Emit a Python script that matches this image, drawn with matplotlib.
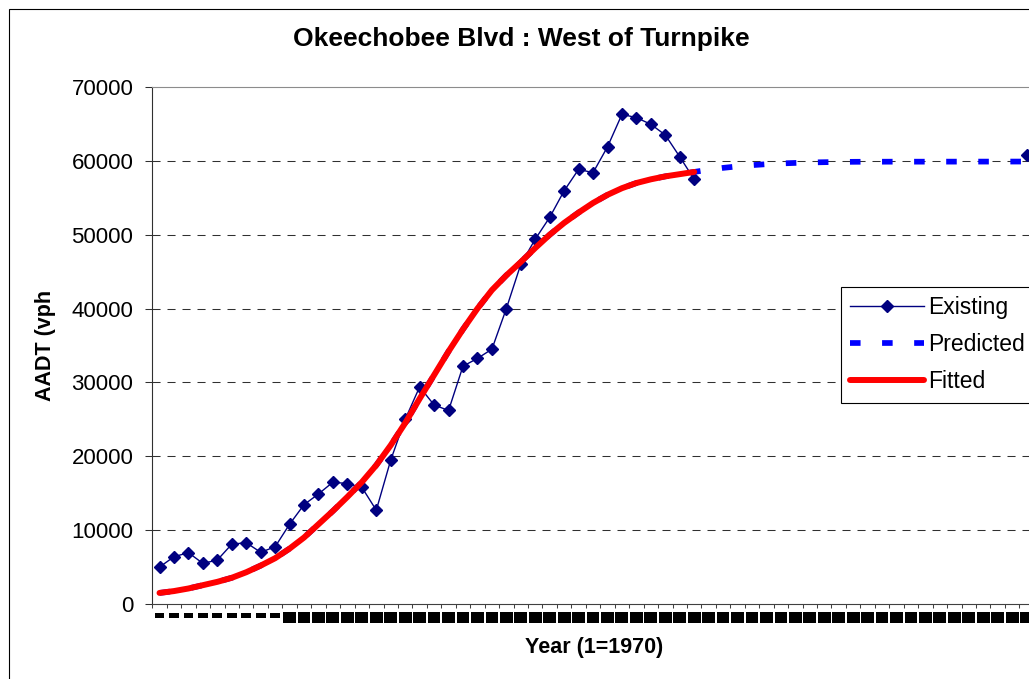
import matplotlib
matplotlib.use('Agg')
import matplotlib.pyplot as plt
import numpy as np
from matplotlib.patches import Rectangle

plt.rcParams['font.family'] = ['Liberation Sans', 'DejaVu Sans']
plt.rcParams['lines.scale_dashes'] = False

# Year index, 1 = 1970
years = list(range(1, 62))

# Counted AADT, 1970-2007
existing = [5000, 6400, 6950, 5500, 5950, 8100, 8300, 7000, 7750, 10800,
            13450, 14900, 16500, 16300, 15800, 12700, 19500, 25000, 29400, 26950,
            26200, 32200, 33250, 34500, 40000, 46000, 49400, 52350, 55950, 58850,
            58400, 61900, 66300, 65850, 64950, 63500, 60550, 57500]
# lone count shown in the last year of the axis
last_year_count = 60800

# Curve fitted to the counts, 1970-2007
fitted = [1500, 1750, 2100, 2550, 3000, 3550, 4300, 5200, 6200, 7500,
          9000, 10800, 12600, 14500, 16500, 18800, 21500, 24500, 27800, 31000,
          34200, 37200, 40000, 42500, 44500, 46300, 48200, 50000, 51600, 53000,
          54300, 55400, 56300, 57000, 57500, 57900, 58200, 58500]
# Projection beyond 2007
predicted_tail = [58800, 59050, 59250, 59420, 59550, 59650, 59720, 59780, 59820, 59850,
                  59870, 59880, 59885, 59890, 59890, 59890, 59895, 59895, 59900, 59900,
                  59900, 59905, 59905]
predicted = fitted + predicted_tail

yticks = list(range(0, 70001, 10000))

W, H = 1029, 679
fig = plt.figure(figsize=(W / 100, H / 100), dpi=100)
fig.patch.set_facecolor('white')

# plot area runs past the right edge of the figure
ax = fig.add_axes([152.3 / W, 75 / H, 881.5 / W, 517 / H])

existing_all = existing + [np.nan] * (len(years) - len(existing) - 1) + [last_year_count]

ax.plot(years, existing_all, color='#000080', lw=1.0, marker='D', ms=5.8,
        markerfacecolor='#000080', markeredgecolor='#000080', label='Existing', zorder=3)
ax.plot(years, predicted, color='#0000FF', lw=4.1, linestyle=(0, (7.6, 15.5)),
        dash_capstyle='butt', label='Predicted', zorder=4)
ax.plot(years[:len(fitted)], fitted, color='#FF0000', lw=4.3,
        solid_capstyle='round', label='Fitted', zorder=5)

ax.set_xlim(0.5, len(years) + 0.5)
ax.set_ylim(0, 70000)
ax.set_yticks(yticks)
ax.set_yticklabels([str(v) for v in yticks])

for v in yticks[1:-1]:
    ax.axhline(v, color='#303030', lw=0.75, linestyle=(0, (5.8, 5.0)), zorder=1)

ax.spines['right'].set_visible(False)
ax.spines['top'].set_color('#8c8c8c')
ax.spines['left'].set_color('#303030')
ax.spines['bottom'].set_color('#404040')
for s in ax.spines.values():
    s.set_linewidth(0.8)

ax.tick_params(axis='y', length=5, width=0.75, color='#303030', pad=8.6, labelsize=16)

# category labels sit under the centres, tick marks between categories
ax.set_xticks(years)
ax.set_xticklabels([str(y) for y in years])
ax.set_xticks(np.arange(0.5, len(years) + 1, 1), minor=True)
ax.tick_params(axis='x', which='major', length=0, pad=6.6)
ax.tick_params(axis='x', which='minor', length=3, width=0.75, color='#404040')

for lab, yr in zip(ax.get_xticklabels(), years):
    lab.set_family('DejaVu Sans')
    if yr < 10:
        lab.set_fontsize(3.8)
        lab.set_bbox(dict(boxstyle='square,pad=0.62', facecolor='black',
                          edgecolor='none', mutation_aspect=0.01))
    else:
        lab.set_fontsize(6.8)
        lab.set_bbox(dict(boxstyle='square,pad=0.04', facecolor='black',
                          edgecolor='none', mutation_aspect=2.7))

leg = ax.legend(loc='upper left', bbox_to_anchor=(841 / W, 1 - 287 / H),
                bbox_transform=fig.transFigure, borderaxespad=0, fontsize=16.5,
                frameon=True, fancybox=False, framealpha=1, edgecolor='black',
                borderpad=0.4, labelspacing=0.615, handlelength=3.2,
                handletextpad=0.2, numpoints=1)
leg.get_frame().set_linewidth(0.8)

fig.text(521 / W, 1 - 46 / H, 'Okeechobee Blvd : West of Turnpike',
         ha='center', va='baseline', fontsize=19, fontweight='bold')
fig.text(594 / W, 1 - 652.7 / H, 'Year (1=1970)',
         ha='center', va='baseline', fontsize=15.5, fontweight='bold')
fig.text(45 / W, 1 - 345 / H, 'AADT (vph', rotation=90,
         ha='center', va='center', fontsize=15.5, fontweight='bold')

# chart border, cut off on the right and at the bottom
fig.patches.append(Rectangle((9 / W, -0.5), 2.0, 1 - 9 / H + 0.5, fill=False,
                             edgecolor='black', lw=0.8, transform=fig.transFigure))

fig.savefig('out.png', dpi=100)
